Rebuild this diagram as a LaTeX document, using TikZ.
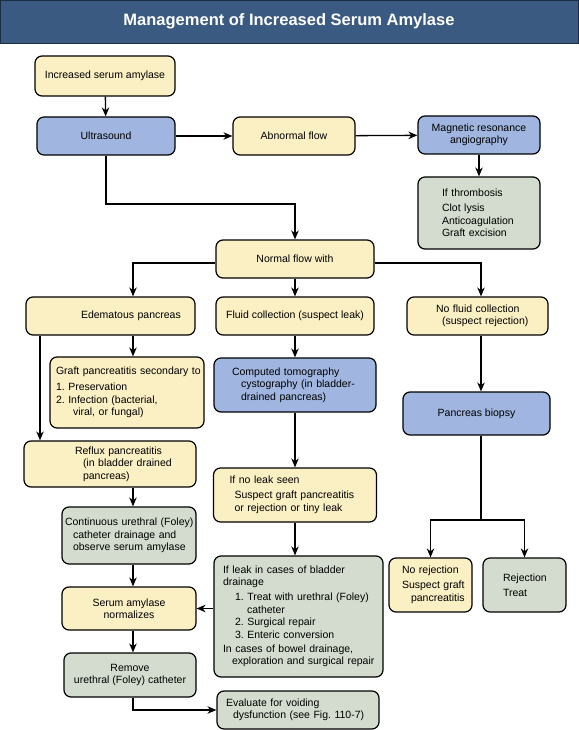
\documentclass[tikz,border=0pt]{standalone}
\usepackage{fontspec}
\setmainfont{Liberation Sans}
\usetikzlibrary{arrows.meta,calc}
\setlength{\parindent}{0pt}
\definecolor{boxyellow}{RGB}{251,239,196}
\definecolor{boxblue}{RGB}{160,181,223}
\definecolor{boxgreen}{RGB}{211,220,206}
\definecolor{titleblue}{RGB}{58,90,130}

\begin{document}
\frenchspacing
\begin{tikzpicture}[x=1pt,y=-1pt,
  box/.style={draw,line width=1.2pt,rounded corners=7pt,inner sep=0pt,align=center,
    font=\fontsize{10.5}{12.5}\selectfont},
  yellowbox/.style={box,fill=boxyellow},
  bluebox/.style={box,fill=boxblue},
  greenbox/.style={box,fill=boxgreen},
  arr/.style={line width=1.3pt,-{Stealth[length=9pt,width=7.5pt]}},
  plain/.style={line width=1.3pt}]
  \useasboundingbox (0,0) rectangle (578,730);

  \node[fill=titleblue,draw=titleblue!50!black,minimum width=578pt,minimum height=43pt,inner sep=0pt,
    text=white,font=\fontsize{16.5}{20}\selectfont\bfseries] (title) at (289,21.5) {Management of Increased Serum Amylase};

  \node[yellowbox,minimum width=140pt,minimum height=40pt] (inc) at (105,76) {Increased serum amylase};
  \node[bluebox,minimum width=138pt,minimum height=38pt] (us) at (106,136) {Ultrasound};
  \node[yellowbox,minimum width=122pt,minimum height=38pt] (abn) at (294,136) {Abnormal flow};
  \node[bluebox,minimum width=122pt,minimum height=38pt] (mra) at (479,135) {Magnetic resonance\\angiography};
  \node[greenbox,text width=122pt,align=left,minimum height=72pt] (thr) at (479,213)
    {\leftskip=24pt\relax If thrombosis\\[2.5pt]Clot lysis\\Anticoagulation\\Graft excision\par};

  \node[yellowbox,minimum width=158pt,minimum height=38pt] (normal) at (295,259) {Normal flow with};
  \node[yellowbox,text width=169pt,align=left,minimum height=38pt] (edem) at (110.5,316)
    {\leftskip=55pt\relax Edematous pancreas\par};
  \node[yellowbox,minimum width=158pt,minimum height=38pt] (fluid) at (295,316) {Fluid collection (suspect leak)};
  \node[yellowbox,text width=141pt,align=left,minimum height=38pt] (nofluid) at (477.5,316)
    {\leftskip=29pt\relax No fluid collection\\\hspace*{6pt}(suspect rejection)\par};

  \node[yellowbox,text width=154pt,align=left,minimum height=71pt] (graft) at (127,392.5)
    {\leftskip=6pt\relax Graft pancreatitis secondary to\\[4pt]1. Preservation\\2. Infection (bacterial,\\\hspace*{17pt}viral, or fungal)\par};
  \node[bluebox,text width=162pt,align=left,minimum height=54pt] (ct) at (295,385)
    {\leftskip=18pt\relax Computed tomography\\\hspace*{9pt}cystography (in bladder-\\\hspace*{9pt}drained pancreas)\par};
  \node[bluebox,minimum width=147pt,minimum height=43pt] (biopsy) at (476.5,413.5) {Pancreas biopsy};

  \node[yellowbox,text width=172pt,align=left,minimum height=46pt] (reflux) at (110,464)
    {\leftskip=51pt\relax Reflux pancreatitis\\\hspace*{8pt}(in bladder drained\\\hspace*{8pt}pancreas)\par};
  \node[yellowbox,text width=163pt,align=left,minimum height=54pt] (noleak) at (295,495)
    {\leftskip=16pt\relax If no leak seen\\[2.5pt]\hspace*{5pt}Suspect graft pancreatitis\\\hspace*{5pt}or rejection or tiny leak\par};
  \node[greenbox,text width=134pt,align=left,minimum height=57pt] (cont) at (129,535.5)
    {\leftskip=3pt\relax Continuous urethral (Foley)\\\hspace*{8pt}catheter drainage and\\\hspace*{8pt}observe serum amylase\par};
  \node[yellowbox,text width=83pt,align=left,minimum height=54pt] (norej) at (430.5,585)
    {\leftskip=13pt\relax No rejection\\[2.5pt]Suspect graft\\\hspace*{9pt}pancreatitis\par};
  \node[greenbox,text width=83pt,align=left,minimum height=54pt] (rej) at (524.5,585)
    {\leftskip=20pt\relax Rejection\\[2.5pt]Treat\\[4pt]\par};

  \node[greenbox,text width=169pt,align=left,minimum height=121pt] (leak) at (298.5,616.5)
    {\leftskip=9pt\relax If leak in cases of bladder\\drainage\\[2.5pt]\hspace*{12pt}1. Treat with urethral (Foley)\\\hspace*{24pt}catheter\\\hspace*{12pt}2. Surgical repair\\\hspace*{12pt}3. Enteric conversion\\[1.5pt]In cases of bowel drainage,\\\hspace*{9pt}exploration and surgical repair\par};
  \node[yellowbox,minimum width=134pt,minimum height=43pt] (serum) at (129,608.5) {Serum amylase\\normalizes};
  \node[greenbox,minimum width=132pt,minimum height=44pt] (remove) at (130,675) {Remove\\urethral (Foley) catheter};
  \node[greenbox,text width=162pt,align=left,minimum height=38pt] (eval) at (298,710)
    {\leftskip=9pt\relax Evaluate for voiding\\\hspace*{7pt}dysfunction (see Fig. 110-7)\par};

  \coordinate (usbend) at (106,204);
  \coordinate (split) at (0,263);
  \coordinate (lcol) at (133,0);
  \coordinate (lline) at (40,0);
  \coordinate (rcol) at (481,0);
  \coordinate (bsplit) at (481,520);

  \draw[arr] (inc) -- (us);
  \draw[arr] (us) -- (abn);
  \draw[arr] (abn) -- (mra);
  \draw[arr] (mra) -- (thr);
  \draw[arr] (us) -- (usbend) -| (normal);
  \draw[arr] (normal.west |- split) -| (edem.north -| lcol);
  \draw[arr] (normal) -- (fluid);
  \draw[arr] (normal.east |- split) -| (nofluid.north -| rcol);
  \draw[arr] (edem.south -| lcol) -- (graft.north -| lcol);
  \draw[arr] (edem.south -| lline) -- (reflux.north -| lline);
  \draw[arr] (fluid) -- (ct);
  \draw[arr] (ct) -- (noleak);
  \draw[arr] (noleak.south) -- (noleak.south |- leak.north);
  \draw[arr] (nofluid.south -| rcol) -- (biopsy.north -| rcol);
  \draw[plain] (biopsy.south -| rcol) -- (bsplit);
  \draw[arr] (bsplit) -| (norej);
  \draw[arr] (bsplit) -| (rej);
  \draw[arr] (reflux.south -| lcol) -- (cont.north -| lcol);
  \draw[arr] (cont.south -| lcol) -- (serum.north -| lcol);
  \draw[arr] (serum.south -| lcol) -- (remove.north -| lcol);
  \draw[arr] (serum.east -| leak.west) -- (serum.east);
  \draw[arr] (remove.south -| lcol) |- (eval.west);
\end{tikzpicture}
\end{document}
